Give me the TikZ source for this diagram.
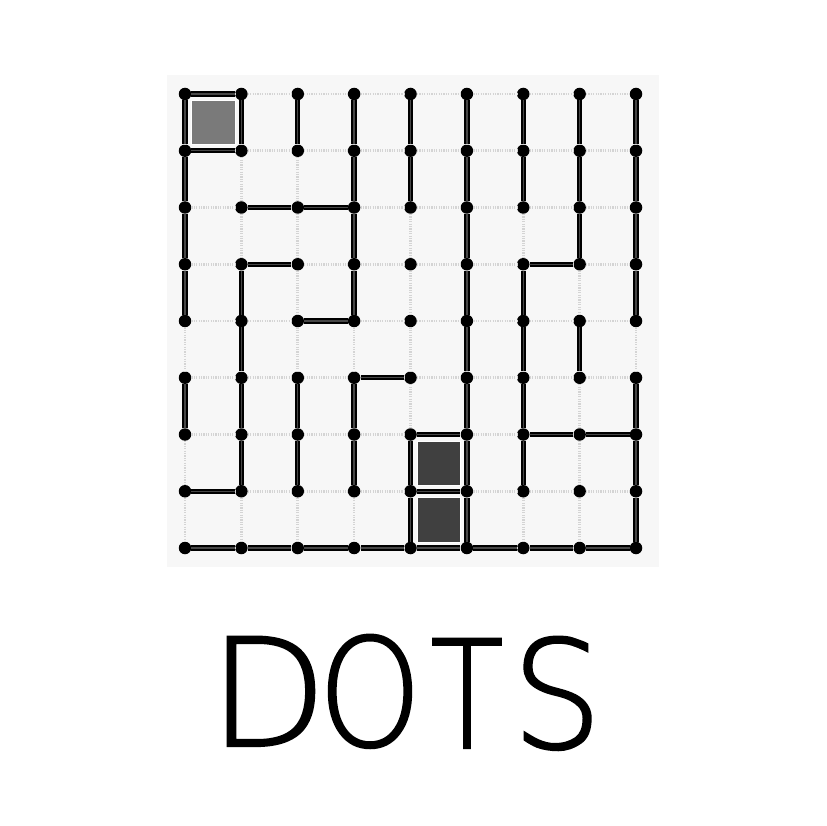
\documentclass[tikz,border=0pt]{standalone}
\usepackage{fontspec}
\newfontfamily\dotsfont{DejaVuSans-ExtraLight.ttf}[FakeBold=1.5]
\begin{document}
\begin{tikzpicture}[x=1pt,y=-1pt,
  dot/.style={circle,fill=black,inner sep=0pt,minimum size=12.5pt},
  wall/.style={draw=black,line width=2pt,double=black!72,double distance=1.3pt},
  faint/.style={draw=black!17,line width=2.6pt,dash pattern=on 1.2pt off 1.2pt},
  tile/.style={draw=white,line width=0.8pt},
  letter/.style={font=\dotsfont\bfseries\fontsize{150}{150}\selectfont,anchor=base,inner sep=0pt,text=black}]
\useasboundingbox (0,0) rectangle (827,826);
\fill[white] (0,0) rectangle (827,826);
\fill[black!3] (167,75) rectangle (659,567);
% dots
\foreach \i in {0,...,8}{
  \foreach \j in {0,...,8}{
    \node[dot] (d\i\j) at ({185+56.375*\i},{94+56.75*\j}) {};
  }
}
% faint grid
\foreach \i [evaluate=\i as \k using int(\i+1)] in {0,...,7}{
  \foreach \j in {0,...,8}{
    \draw[faint] (d\i\j) -- (d\k\j);
    \draw[faint] (d\j\i) -- (d\j\k);
  }
}
% horizontal walls (column/row)
\foreach \c/\r [evaluate=\c as \k using int(\c+1)] in
  {0/0,0/1,1/2,2/2,1/3,6/3,2/4,3/5,4/6,6/6,7/6,0/7,4/7,
   0/8,1/8,2/8,3/8,4/8,5/8,6/8,7/8}{
  \draw[wall] (d\c\r) -- (d\k\r);
}
% vertical walls (column/row)
\foreach \c/\r [evaluate=\r as \k using int(\r+1)] in
  {0/0,0/1,0/2,0/3,0/5,
   1/0,1/3,1/4,1/5,1/6,
   2/0,2/5,2/6,
   3/0,3/1,3/2,3/3,3/5,3/6,
   4/0,4/1,4/6,4/7,
   5/0,5/1,5/2,5/3,5/4,5/5,5/6,5/7,
   6/0,6/1,6/3,6/4,6/5,6/6,
   7/0,7/1,7/2,7/4,
   8/0,8/1,8/2,8/3,8/5,8/6,8/7}{
  \draw[wall] (d\c\r) -- (d\c\k);
}
% filled squares
\filldraw[tile,fill=black!52] ([shift={(6.5,6.5)}]d00.center) rectangle ([shift={(-6,-6)}]d11.center);
\filldraw[tile,fill=black!75] ([shift={(6.5,6.5)}]d46.center) rectangle ([shift={(-6,-6)}]d57.center);
\filldraw[tile,fill=black!75] ([shift={(6.5,6.5)}]d47.center) rectangle ([shift={(-6,-6)}]d58.center);
% title
\node[letter,xscale=1.02] (tD) at (268,746) {D};
\node[letter,xscale=0.88] (tO) at (370,746) {O};
\node[letter,xscale=0.8] (tT) at (467,748) {T};
\node[letter,xscale=0.95] (tS) at (557,748) {S};
\end{tikzpicture}
\end{document}
